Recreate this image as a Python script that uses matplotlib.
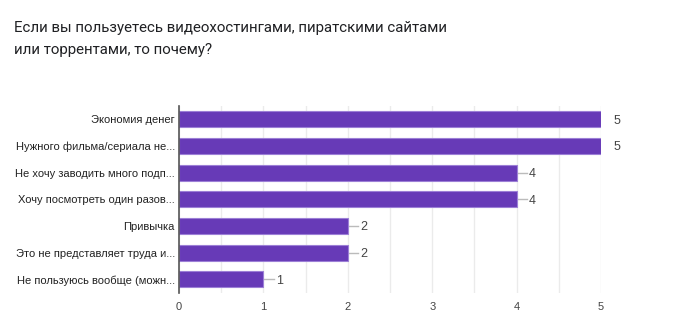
import matplotlib.pyplot as plt
from matplotlib.ticker import MultipleLocator
from matplotlib.transforms import offset_copy

# answers to the survey question and how many people picked each one
answers = [
    "Экономия денег",
    "Нужного фильма/сериала не...",
    "Не хочу заводить много подп...",
    "Хочу посмотреть один разов...",
    "Привычка",
    "Это не представляет труда и...",
    "Не пользуюсь вообще (можн...",
]
counts = [5, 5, 4, 4, 2, 2, 1]
x_ticks = [0, 1, 2, 3, 4, 5]

title = "Если вы пользуетесь видеохостингами, пиратскими сайтами\nили торрентами, то почему?"

purple = "#673ab7"
edge = "#9c7fd6"
grid = "#ebebeb"
text_col = "#222222"

plt.rcParams["font.family"] = ["Liberation Sans", "DejaVu Sans"]

fig = plt.figure(figsize=(7, 3.22), dpi=100)
fig.patch.set_facecolor("white")
ax = fig.add_axes([0.2557, 0.091, 0.603, 0.58])

pos = list(range(len(answers)))
ax.barh(pos, counts, height=0.6, color=purple, edgecolor=edge, linewidth=0.8, zorder=3)

ax.set_xlim(0, 5)
ax.set_ylim(6.5, -0.5)
ax.set_xticks(x_ticks)
ax.xaxis.set_minor_locator(MultipleLocator(0.5))
ax.grid(axis="x", which="both", color=grid, linewidth=1, zorder=0)
ax.set_yticks(pos)
ax.set_yticklabels(answers, fontsize=8, color=text_col)
ax.tick_params(axis="x", which="both", length=0, labelsize=8, labelcolor="#444444", pad=7)
ax.tick_params(axis="y", length=0, pad=3)

for side in ["top", "right", "bottom"]:
    ax.spines[side].set_visible(False)
ax.spines["left"].set_color("#555555")
ax.spines["left"].set_linewidth(1.2)
ax.spines["left"].set_zorder(4)

# value labels with a short grey leader line (clipped at the right edge)
for y, v in zip(pos, counts):
    ax.plot([v, v + 0.12], [y, y], color="#bbbbbb", lw=1, zorder=2)
    tr = offset_copy(ax.transData, fig=fig, x=9, y=0, units="points")
    ax.text(v, y, str(v), transform=tr, ha="left", va="center_baseline",
            fontsize=9, color="#444444", clip_on=False)

fig.text(0.02, 0.935, title, fontsize=10.8, family=["Roboto", "DejaVu Sans"],
         color="#202124", va="top", ha="left", linespacing=1.75)

fig.savefig("out.png", dpi=100, facecolor="white")
